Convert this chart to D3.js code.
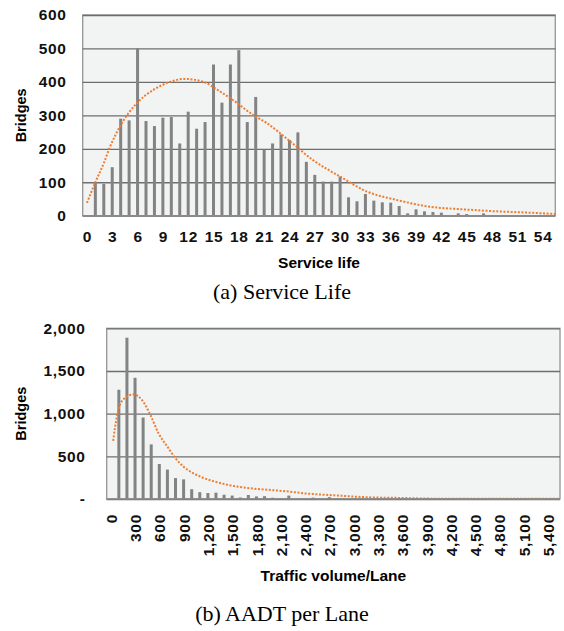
<!DOCTYPE html>
<html>
<head>
<meta charset="utf-8">
<script src="https://cdn.jsdelivr.net/npm/d3@7"></script>
<style>
  body { margin: 0; background: #fff; }
  text { font-family: "Liberation Sans", Arial, sans-serif; }
</style>
</head>
<body>
<svg id="chart" width="564" height="631"></svg>
<script>
// (a) service life histogram
const lifeYears = d3.range(0, 56);
const lifeBridges = [0, 100, 95, 145, 290, 285, 500, 283, 268, 293, 295, 216, 311, 260, 280, 452, 338, 452, 495, 280,
  355, 197, 216, 243, 226, 249, 161, 122, 102, 102, 117, 55, 43, 65, 45, 40, 39, 29, 7, 19, 13, 11, 9, 2, 7, 5, 0, 7,
  0, 2, 0, 2, 0, 0, 0, 0];
const lifeTicks = d3.range(0, 55, 3);
const lifeYTicks = [0, 100, 200, 300, 400, 500, 600];
// fitted curve
const fitLifeX = [0, 1, 2, 2.74, 3.9, 5.9, 7.87, 9.85, 11.6, 13.8, 15.8, 17.3, 19.7, 21.3, 23.9, 26.8, 30, 33.2, 36.7, 40.6, 44.6, 48.6, 52.5, 55.5];
const fitLifeY = [38, 100, 157, 206, 266, 336, 376, 400, 409, 400, 371, 346, 301, 277, 226, 166, 117, 72, 47, 27, 19, 13, 9, 5];

// (b) AADT per lane histogram
const aadtBins = d3.range(0, 5600, 100);
const aadtBridges = [0, 1280, 1890, 1420, 955, 640, 410, 345, 245, 230, 115, 80, 70, 74, 50, 40, 18, 47, 30, 33, 15, 4,
  40, 3, 0, 16, 3, 22, 8, 2, 4, 4, 0, 0, 0, 0, 0, 0, 0, 0, 0, 0, 0, 0, 0, 0, 0, 0, 0, 0, 0, 0, 0, 0, 0, 0];
const aadtTicks = d3.range(0, 5500, 300);
const aadtYTicks = [0, 500, 1000, 1500, 2000];
const fitAadtX = [30, 75, 116, 200, 280, 386, 490, 590, 700, 800, 900, 1110, 1320, 1520, 1770, 2020, 2210, 2350, 2760, 3180, 3600, 4000, 4500, 5000, 5550];
const fitAadtY = [680, 964, 1110, 1199, 1226, 1160, 984, 770, 613, 477, 379, 261, 195, 152, 121, 102, 86, 70, 43, 20, 12, 4, 3, 2, 2];

const svg = d3.select("#chart");

function drawPanel(opt) {
  const x = d3.scaleLinear().domain(opt.xDomain).range([opt.left, opt.right]);
  const y = d3.scaleLinear().domain(opt.yDomain).range([opt.bottom, opt.top]);
  const g = svg.append("g");

  g.append("rect")
    .attr("x", opt.left).attr("y", opt.top)
    .attr("width", opt.right - opt.left).attr("height", opt.bottom - opt.top)
    .attr("fill", "#f2f3f3")
    .attr("stroke", "#959595").attr("stroke-width", 1.3);

  // gridlines + y labels
  const yAxis = g.append("g")
    .attr("transform", "translate(" + opt.left + ",0)")
    .call(d3.axisLeft(y).tickValues(opt.yTicks).tickSize(-(opt.right - opt.left))
      .tickPadding(opt.yPad).tickFormat(opt.yFormat));
  yAxis.select(".domain").remove();
  yAxis.selectAll("line").attr("stroke", "#6e6e6e").attr("stroke-width", 1.3);
  yAxis.selectAll("text")
    .attr("fill", "#111").style("font-size", "15.5px").style("font-weight", "bold")
    .style("letter-spacing", "0.7px");

  // bars
  g.selectAll(".bar")
    .data(opt.cats)
    .enter().append("rect")
    .attr("x", (d) => x(d) - 1.5)
    .attr("y", (d, i) => y(opt.values[i]))
    .attr("width", 3)
    .attr("height", (d, i) => opt.bottom - y(opt.values[i]))
    .attr("fill", "#838383");

  // fitted curve
  const pts = opt.fitX.map((v, i) => [v, opt.fitY[i]]);
  g.append("path")
    .datum(pts)
    .attr("d", d3.line().x((d) => x(d[0])).y((d) => y(d[1])).curve(d3.curveMonotoneX))
    .attr("fill", "none")
    .attr("stroke", "#ed7d31")
    .attr("stroke-width", 2)
    .attr("stroke-dasharray", "2,1.6");

  // bottom line
  g.append("line")
    .attr("x1", opt.left).attr("x2", opt.right)
    .attr("y1", opt.bottom).attr("y2", opt.bottom)
    .attr("stroke", "#8a8a8a").attr("stroke-width", 1.3);

  // x labels
  const xAxis = g.append("g")
    .attr("transform", "translate(0," + opt.bottom + ")")
    .call(d3.axisBottom(x).tickValues(opt.xTicks).tickSize(0).tickFormat(opt.xFormat));
  xAxis.select(".domain").remove();
  const xt = xAxis.selectAll("text")
    .attr("fill", "#111").style("font-size", "15.5px").style("font-weight", "bold")
    .style("letter-spacing", "0.7px");
  if (opt.rotate) {
    xt.attr("transform", "rotate(-90)")
      .attr("x", -15).attr("y", 0).attr("dy", "0.36em")
      .attr("text-anchor", "end");
  } else {
    xt.attr("y", 15.5);
  }

  g.append("text")
    .attr("x", (opt.left + opt.right) / 2).attr("y", opt.xTitleY)
    .attr("text-anchor", "middle")
    .style("font-size", "15.5px").style("font-weight", "bold")
    .text(opt.xTitle);

  g.append("text")
    .attr("transform", "translate(26," + (opt.top + opt.bottom) / 2 + ") rotate(-90)")
    .attr("text-anchor", "middle")
    .style("font-size", "14.5px").style("font-weight", "bold")
    .text("Bridges");

  g.append("text")
    .attr("x", 282).attr("y", opt.captionY)
    .attr("text-anchor", "middle")
    .style("font-family", "'Liberation Serif', 'Times New Roman', serif")
    .style("font-size", "22px")
    .text(opt.caption);
}

drawPanel({
  left: 82.7, right: 555.3, top: 15, bottom: 215.7,
  xDomain: [-0.5, 55.5], yDomain: [0, 600],
  cats: lifeYears, values: lifeBridges,
  xTicks: lifeTicks, yTicks: lifeYTicks, yPad: 16,
  xFormat: d3.format("d"), yFormat: d3.format("d"),
  fitX: fitLifeX, fitY: fitLifeY,
  rotate: false,
  xTitle: "Service life", xTitleY: 268,
  caption: "(a) Service Life", captionY: 299
});

drawPanel({
  left: 106.7, right: 560, top: 328.3, bottom: 499,
  xDomain: [-50, 5550], yDomain: [0, 2000],
  cats: aadtBins, values: aadtBridges,
  xTicks: aadtTicks, yTicks: aadtYTicks, yPad: 21,
  xFormat: d3.format(","), yFormat: (d) => (d === 0 ? "-" : d3.format(",")(d)),
  fitX: fitAadtX, fitY: fitAadtY,
  rotate: true,
  xTitle: "Traffic volume/Lane", xTitleY: 581,
  caption: "(b) AADT per Lane", captionY: 621
});
</script>
</body>
</html>
